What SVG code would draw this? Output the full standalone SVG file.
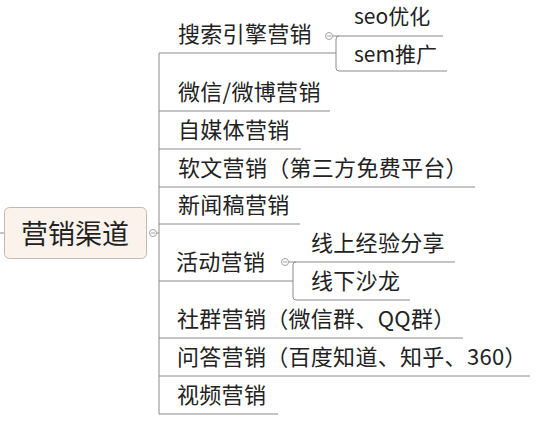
<svg xmlns="http://www.w3.org/2000/svg" width="536" height="424" viewBox="0 0 536 424">
<style>
.t{font-family:"Noto Sans CJK SC","Noto Sans",sans-serif;font-size:22px;fill:#222;letter-spacing:0.3px}
.s{font-size:21px;letter-spacing:0}
.ln{fill:none;stroke:#8a8a8a;stroke-width:1}
.cc{fill:#fff;stroke:#a0a0a0;stroke-width:1}
.mn{stroke:#a0a0a0;stroke-width:1}
</style>
<rect width="536" height="424" fill="#fff"/>
<g id="connectors">
<path class="ln" d="M0 233H4"/>
<path class="ln" d="M157 233H159"/>
<path class="ln" d="M159 53V414"/>
<path class="ln" d="M159 53H336"/>
<path class="ln" d="M159 111H330"/>
<path class="ln" d="M159 149H301"/>
<path class="ln" d="M159 187H475"/>
<path class="ln" d="M159 224H300"/>
<path class="ln" d="M159 281H293"/>
<path class="ln" d="M159 338H463"/>
<path class="ln" d="M159 376H530"/>
<path class="ln" d="M159 414H278"/>
<path class="ln" d="M333 36H339Q336 36 336 39V68Q336 71 339 71H447"/>
<path class="ln" d="M339 36H443"/>
<path class="ln" d="M289 262H296Q293 262 293 265V297Q293 300 296 300H410"/>
<path class="ln" d="M296 262H455"/>
</g>
<g id="root">
<rect x="4.5" y="207.5" width="142" height="51" rx="5" fill="#fbf2ec" stroke="#c4b8b2"/>
<text class="t" x="75" y="244" text-anchor="middle" style="font-size:27px;letter-spacing:0">营销渠道</text>
<circle class="cc" cx="153" cy="233" r="3.5"/><path class="mn" d="M151 233H155"/>
</g>
<g id="n1"><text class="t" x="178" y="42">搜索引擎营销</text>
<circle class="cc" cx="329" cy="36" r="3.5"/><path class="mn" d="M327 36H331"/></g>
<g id="n1a"><text class="t s" x="354" y="24">seo优化</text></g>
<g id="n1b"><text class="t s" x="354" y="62">sem推广</text></g>
<g id="n2"><text class="t" x="178" y="100">微信/微博营销</text></g>
<g id="n3"><text class="t" x="178" y="138">自媒体营销</text></g>
<g id="n4"><text class="t" x="178" y="176">软文营销（第三方免费平台）</text></g>
<g id="n5"><text class="t" x="178" y="213">新闻稿营销</text></g>
<g id="n6"><text class="t" x="176" y="270">活动营销</text>
<circle class="cc" cx="285" cy="262" r="3.5"/><path class="mn" d="M283 262H287"/></g>
<g id="n6a"><text class="t" x="311" y="251">线上经验分享</text></g>
<g id="n6b"><text class="t" x="311" y="289">线下沙龙</text></g>
<g id="n7"><text class="t" x="177" y="327">社群营销（微信群、QQ群）</text></g>
<g id="n8"><text class="t" x="177" y="365">问答营销（百度知道、知乎、360）</text></g>
<g id="n9"><text class="t" x="177" y="403">视频营销</text></g>
</svg>
